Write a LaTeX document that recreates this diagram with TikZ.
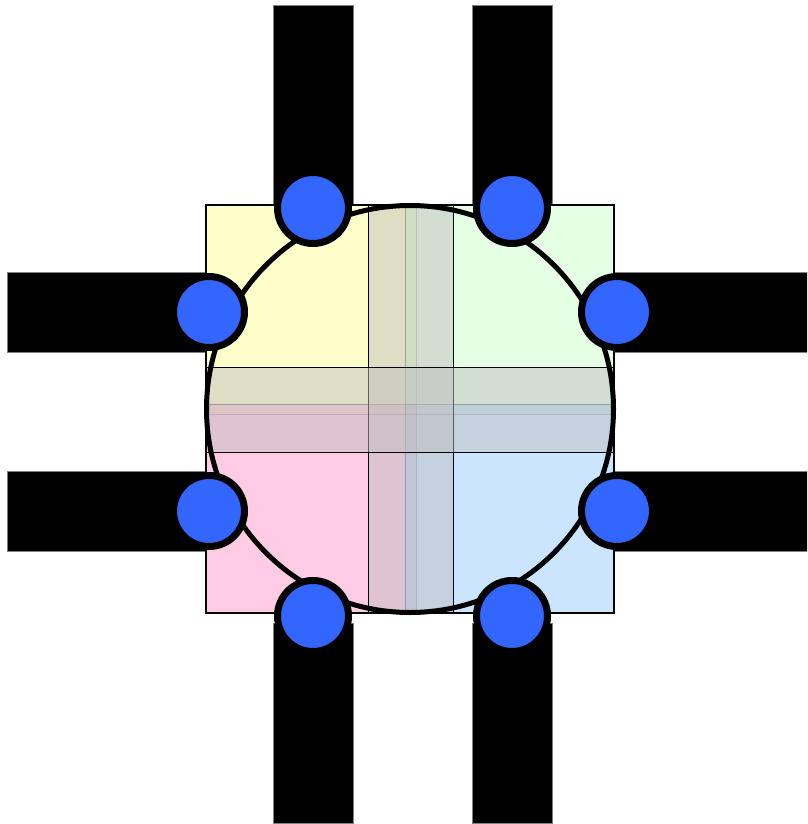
\documentclass[tikz,border=0pt]{standalone}
\usetikzlibrary{shapes.geometric}
\definecolor{qyellow}{HTML}{FFFF99}
\definecolor{qgreen}{HTML}{CCFFCC}
\definecolor{qpink}{HTML}{FF99CC}
\definecolor{qblue}{HTML}{99CCFF}
\definecolor{portblue}{HTML}{3366FF}
\tikzset{
  bar/.style={fill=black, draw=gray, line width=0.8pt},
  quad/.style={fill opacity=0.5, draw opacity=0.45, draw=black, line width=1pt},
  band/.style={fill=black!25, fill opacity=0.5, draw=black, line width=1pt},
  port/.style={circle, fill=portblue, draw=black, line width=7pt, minimum size=71pt, inner sep=0pt},
}
\begin{document}
\begin{tikzpicture}[x=1pt,y=-1pt]
\path[use as bounding box] (0,0) rectangle (807,824);
\clip (0,0) rectangle (807,824);
% bars
\filldraw[bar] (273,5) rectangle (353,206);
\filldraw[bar] (472,5) rectangle (552,206);
\filldraw[bar] (7,272) rectangle (207,352);
\filldraw[bar] (7,471) rectangle (207,551);
\filldraw[bar] (614,272) rectangle (830,352);
\filldraw[bar] (614,471) rectangle (830,551);
\filldraw[bar] (273,623) rectangle (353,823);
\filldraw[bar] (472,623) rectangle (552,823);
% white base of square
\fill[white] (206,205) rectangle (614,613);
% quadrants
\filldraw[quad, fill=qyellow] (206,205) rectangle (416,414);
\filldraw[quad, fill=qgreen] (405,205) rectangle (614,414);
\filldraw[quad, fill=qpink] (206,404) rectangle (416,613);
\filldraw[quad, fill=qblue] (405,404) rectangle (614,613);
% bands
\filldraw[band] (368,205) rectangle (453,613);
\filldraw[band] (206,367) rectangle (614,452);
% outer square
\draw[black, line width=2pt] (206,205) rectangle (614,613);
% main circle
\draw[black, line width=5pt] (410,409) circle[radius=203.5];
% ports
\node[port] (p1) at (313,208) {};
\node[port] (p2) at (512,208) {};
\node[port] (p3) at (209,312) {};
\node[port] (p4) at (617,312) {};
\node[port] (p5) at (209,511) {};
\node[port] (p6) at (617,511) {};
\node[port] (p7) at (313,616) {};
\node[port] (p8) at (512,616) {};
\end{tikzpicture}
\end{document}
